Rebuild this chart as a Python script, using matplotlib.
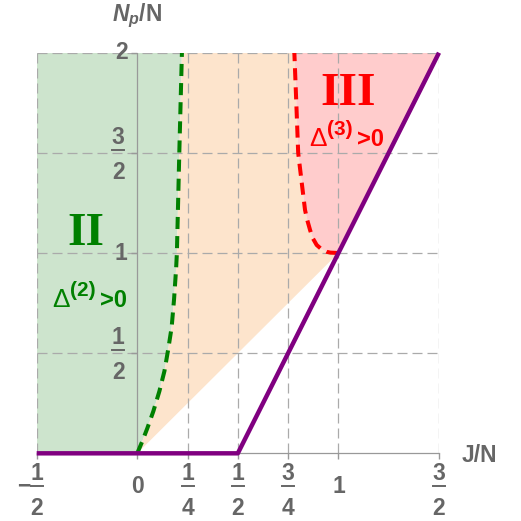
import numpy as np
import matplotlib.pyplot as plt
from matplotlib.transforms import ScaledTranslation

plt.rcParams['font.family'] = 'Liberation Sans'
plt.rcParams['mathtext.fontset'] = 'custom'
plt.rcParams['mathtext.rm'] = 'Liberation Sans'
plt.rcParams['mathtext.it'] = 'Liberation Sans:italic:bold'
plt.rcParams['mathtext.bf'] = 'Liberation Sans:bold'

# boundary of region II (green dashed curve)
green_x = [0, 0.025, 0.05, 0.08, 0.11, 0.135, 0.154, 0.171, 0.183, 0.193, 0.197, 0.209, 0.222]
green_y = [0, 0.06, 0.125, 0.21, 0.31, 0.41, 0.52, 0.63, 0.77, 0.92, 1.0, 1.5, 2.0]

# boundary of region III (red dashed curve)
red_x = [1.0, 0.96, 0.942, 0.915, 0.892, 0.872, 0.859, 0.845, 0.834, 0.818, 0.80, 0.79, 0.781]
red_y = [1.0, 1.002, 1.006, 1.02, 1.04, 1.075, 1.115, 1.165, 1.215, 1.348, 1.5, 1.766, 2.0]

# lower edge (purple)
edge_x = [-0.5, 0.5, 1.5]
edge_y = [0, 0, 2]

grid_x = [-0.5, 0.25, 0.5, 0.75, 1, 1.5]
grid_y = [0.5, 1, 1.5, 2]

xtick_vals = [-0.5, 0, 0.25, 0.5, 0.75, 1, 1.5]
xtick_labs = ['-1/2', '0', '1/4', '1/2', '3/4', '1', '3/2']
ytick_vals = [0.5, 1, 1.5, 2]
ytick_labs = ['1/2', '1', '3/2', '2']

fig = plt.figure(figsize=(5.21, 5.21), dpi=100)
ax = fig.add_axes([0.0704, 0.1299, 0.7722, 0.7689])
ax.set_xlim(-0.5, 1.5)
ax.set_ylim(0, 2)
ax.axis('off')

def px(dx, dy):
    # data coords shifted by some pixels
    return ax.transData + ScaledTranslation(dx / 100, dy / 100, fig.dpi_scale_trans)

# shaded regions
ax.fill(np.r_[-0.5, green_x, -0.5], np.r_[0, green_y, 2], color='#cde4cd', lw=0, zorder=1)
ax.fill(np.r_[green_x, red_x[::-1]], np.r_[green_y, red_y[::-1]], color='#fde4cc', lw=0, zorder=1)
ax.fill(np.r_[red_x, 1.5], np.r_[red_y, 2], color='#ffcccc', lw=0, zorder=1)

# grid + axes
for v in grid_x:
    ax.plot([v, v], [0, 2], color='#aaaaaa', lw=0.9, ls=(0, (8, 4)), zorder=2)
for v in grid_y:
    ax.plot([-0.5, 1.5], [v, v], color='#aaaaaa', lw=0.9, ls=(0, (8, 4)), zorder=2)
ax.plot([0, 0], [0, 2], color='#999999', lw=0.9, zorder=2)
ax.plot([-0.5, 1.5], [0, 0], color='#999999', lw=0.9, zorder=2, clip_on=False)
ax.plot(xtick_vals, np.zeros(len(xtick_vals)), ls='none', marker=3, ms=4, color='#999999', clip_on=False)
ax.plot(np.zeros(len(ytick_vals)), ytick_vals, ls='none', marker=0, ms=4, color='#999999', clip_on=False)

# curves
ax.plot(green_x, green_y, color='#008000', lw=2.9, ls=(0, (3, 1.75)), zorder=4)
ax.plot(red_x, red_y, color='#ff0000', lw=2.9, ls=(0, (3, 1.75)), zorder=4)
ax.plot(edge_x, edge_y, color='#800080', lw=3.2, zorder=5, clip_on=False, solid_capstyle='butt')

tc = '#666666'
fs = 16.5

def tick_label(x, y, s, dx, dy):
    neg = s.startswith('-')
    s = s.lstrip('-')
    if '/' in s:
        n, d = s.split('/')
        ax.text(x, y, n, transform=px(dx, dy + 1), ha='center', va='bottom',
                fontsize=fs, fontweight='bold', color=tc)
        ax.text(x, y, d, transform=px(dx, dy - 11), ha='center', va='top',
                fontsize=fs, fontweight='bold', color=tc)
        ax.plot([x - 0.03, x + 0.03], [y, y], transform=px(dx, dy), color=tc,
                lw=1.4, clip_on=False)
    else:
        ax.text(x, y, s, transform=px(dx, dy), ha='center', va='center',
                fontsize=fs, fontweight='bold', color=tc)
    if neg:
        ax.text(x, y, '\u2212', transform=px(dx - 6, dy), ha='right', va='center',
                fontsize=fs, fontweight='bold', color=tc)

for v, s in zip(xtick_vals, xtick_labs):
    tick_label(v, 0, s, 0, -33)
for v, s in zip(ytick_vals, ytick_labs):
    if '/' in s:
        tick_label(0, v, s, -19, 3)
    else:
        tick_label(0, v, s, -16, 0)

ax.text(0, 2, '$N_p$/N', transform=px(0, 32), ha='center', va='baseline',
        fontsize=fs, fontweight='bold', color=tc)
ax.text(1.5, 0, 'J/N', transform=px(22.7, -8.7), ha='left', va='baseline',
        fontsize=fs, fontweight='bold', color=tc)

def delta_label(x, y, sup, color):
    # Delta^(k)>0 built from three pieces
    ax.annotate('\u0394', (x, y), xytext=(0, 0), textcoords='offset pixels',
                ha='left', va='baseline', fontsize=19, color=color, zorder=6)
    ax.annotate(sup, (x, y), xytext=(18, 11), textcoords='offset pixels',
                ha='left', va='baseline', fontsize=15, fontweight='bold', color=color, zorder=6)
    ax.annotate('>0', (x, y), xytext=(48, 0), textcoords='offset pixels',
                ha='left', va='baseline', fontsize=17, fontweight='bold', color=color, zorder=6)

# region labels
ax.text(-0.253, 1.04, 'II', ha='center', va='baseline', fontsize=34,
        family='Liberation Serif', fontweight='bold', color='#008000', zorder=6)
delta_label(-0.424, 0.731, '(2)', '#008000')
ax.text(1.048, 1.739, 'III', ha='center', va='baseline', fontsize=34,
        family='Liberation Serif', fontweight='bold', color='#ff0000', zorder=6)
delta_label(0.854, 1.534, '(3)', '#ff0000')

fig.savefig('out.png', dpi=100)
